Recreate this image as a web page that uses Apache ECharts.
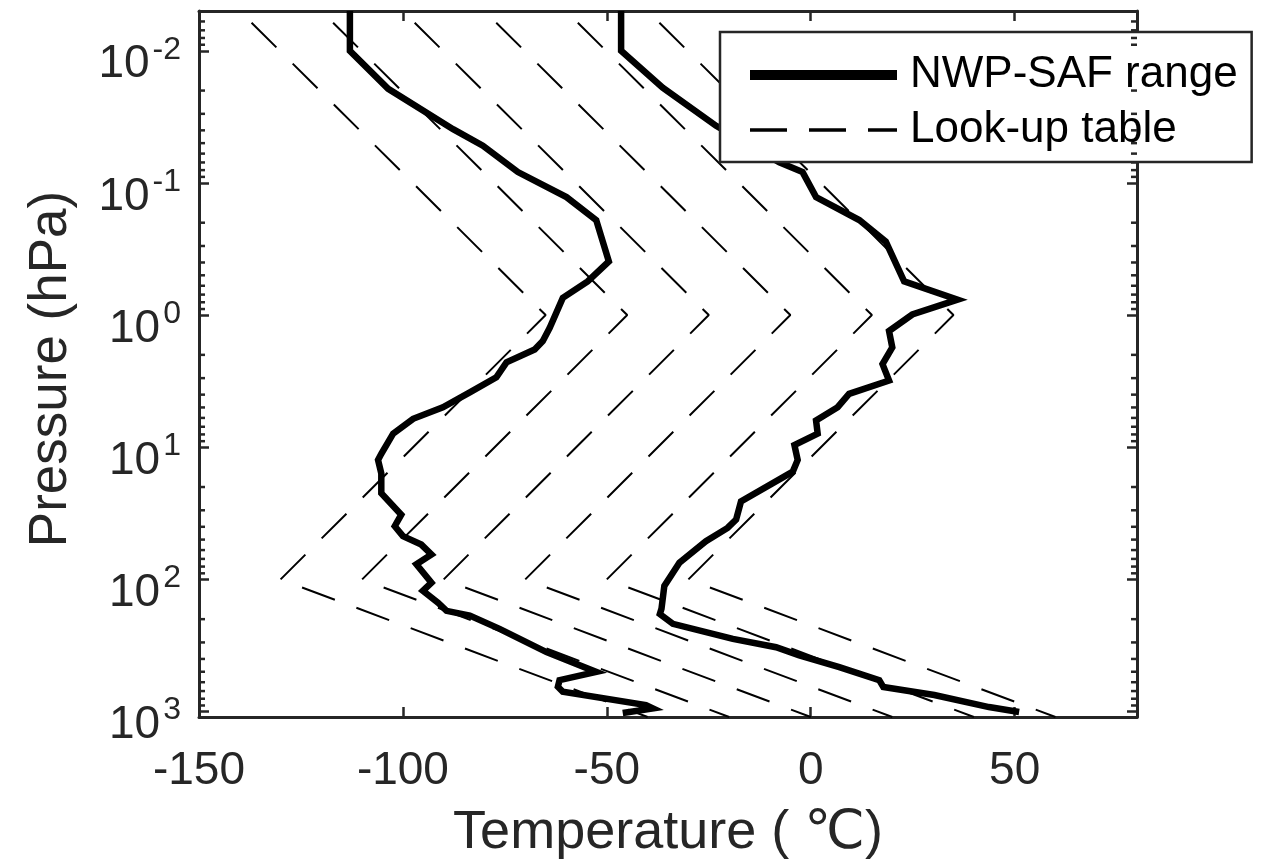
<!DOCTYPE html>
<html>
<head>
<meta charset="utf-8">
<script src="https://cdn.jsdelivr.net/npm/echarts@6/dist/echarts.min.js"></script>
<style>
  html, body { margin: 0; padding: 0; background: #ffffff; }
  #chart { width: 1261px; height: 865px; }
</style>
</head>
<body>
<div id="chart"></div>
<script>
// NWP-SAF profile envelope: coldest profile (pressure in hPa, temperature in °C)
const minProfileP = [0.005, 0.01, 0.0194, 0.0392, 0.0523, 0.0828, 0.128, 0.191, 0.393, 0.556,
  0.741, 1.25, 1.57, 1.82, 2.28, 2.96, 3.84, 4.98, 6.09, 7.89,
  11.2, 12.5, 15.8, 22.3, 32.4, 39.6, 47.1, 54.5, 64.7, 76.9,
  106, 122, 150, 173, 188, 237, 355, 502, 579, 650,
  709, 893, 946, 1025];
const minProfileT = [-113.0, -113.0, -103.6, -87.7, -80.4, -71.8, -59.9, -52.6, -49.5, -54.7,
  -60.8, -64.0, -65.7, -67.7, -74.6, -77.1, -83.6, -90.2, -97.5, -102.4,
  -105.3, -106.1, -105.3, -105.3, -100.4, -102.0, -100.0, -95.5, -93.0, -96.7,
  -93.0, -95.1, -91.4, -89.3, -83.6, -76.3, -64.8, -52.6, -61.6, -62.0,
  -60.8, -40.4, -38.7, -46.1];

// NWP-SAF profile envelope: warmest profile
const maxProfileP = [0.005, 0.01, 0.019, 0.037, 0.0697, 0.0828, 0.128, 0.191, 0.278, 0.556,
  0.764, 0.99, 1.32, 1.76, 2.35, 3.13, 3.95, 4.98, 6.26, 7.89,
  9.64, 12.5, 15.3, 25.7, 35.3, 40.8, 51.4, 74.8, 112, 167,
  183, 217, 282, 326, 376, 462, 579, 653, 750, 925, 1007];
const maxProfileT = [-46.5, -46.5, -36.3, -23.2, -7.7, -2.0, 1.3, 11.9, 18.4, 22.9,
  36.0, 24.9, 19.2, 20.0, 17.6, 19.2, 9.4, 6.6, 1.3, 1.7,
  -4.0, -3.2, -4.4, -17.1, -18.3, -20.4, -25.7, -32.2, -35.9, -36.6,
  -37.0, -33.8, -19.1, -8.5, -2.8, 7.0, 16.8, 17.8, 30.3, 43.7, 51.1];

// Look-up table profiles: shared pressure nodes, one temperature list per profile
const lutP = [0.005, 1, 100, 1100];
const lutProfile1 = [-140, -65, -130, -40];
const lutProfile2 = [-120, -45, -110, -20];
const lutProfile3 = [-100, -25, -90, 0];
const lutProfile4 = [-80, -5, -70, 20];
const lutProfile5 = [-60, 15, -50, 40];
const lutProfile6 = [-40, 35, -30, 60];
const lutProfiles = [lutProfile1, lutProfile2, lutProfile3, lutProfile4, lutProfile5, lutProfile6];

// Axis ranges
const tempMin = -150, tempMax = 80, tempStep = 50;
const presTop = 0.005, presBottom = 1100;
// minor tick mantissas for each decade of the pressure axis
const minorMantissas = [2, 3, 4, 5, 6, 7, 8, 9];
const minorDecades = [0.001, 0.01, 0.1, 1, 10, 100];

const FONT = "'Liberation Sans', Arial, 'DejaVu Sans', sans-serif";
const AX = '#262626';

const pairs = (ts, ps) => ts.map((t, i) => [t, ps[i]]);

const minorTicks = [];
minorDecades.forEach(d => minorMantissas.forEach(m => {
  const v = +(m * d).toPrecision(6);
  if (v > presTop && v < presBottom) minorTicks.push([tempMin, v]);
}));

const series = [];
lutProfiles.forEach(prof => {
  series.push({
    name: 'Look-up table',
    type: 'line',
    data: pairs(prof, lutP),
    symbol: 'none',
    silent: true,
    z: 2,
    itemStyle: { color: '#000' },
    lineStyle: { color: '#000', width: 2, type: [35, 23], dashOffset: 41.4, cap: 'butt' }
  });
});
[[minProfileT, minProfileP], [maxProfileT, maxProfileP]].forEach(([ts, ps]) => {
  series.push({
    name: 'NWP-SAF range',
    type: 'line',
    data: pairs(ts, ps),
    symbol: 'none',
    silent: true,
    z: 3,
    itemStyle: { color: '#000' },
    lineStyle: { color: '#000', width: 6.5, join: 'miter', cap: 'butt' }
  });
});
// inward minor ticks on both pressure axes
series.push({
  type: 'custom',
  silent: true,
  z: 5,
  data: minorTicks,
  encode: { x: 0, y: 1 },
  renderItem: (params, api) => {
    const cs = params.coordSys;
    const y = api.coord([tempMin, api.value(1)])[1];
    const st = { stroke: AX, lineWidth: 2.5 };
    return {
      type: 'group',
      children: [
        { type: 'line', shape: { x1: cs.x, y1: y, x2: cs.x + 6, y2: y }, style: st },
        { type: 'line', shape: { x1: cs.x + cs.width - 6, y1: y, x2: cs.x + cs.width, y2: y }, style: st }
      ]
    };
  }
});

const expLabel = v => {
  const e = Math.log10(v), r = Math.round(e);
  if (Math.abs(e - r) > 1e-6) return '';
  return '{b|10}{s|' + r + '}';
};

const axisLineStyle = { show: true, onZero: false, lineStyle: { color: AX, width: 3 } };
const tickStyle = { show: true, inside: true, length: 10, lineStyle: { color: AX, width: 2.5 } };

const chart = echarts.init(document.getElementById('chart'), null, { renderer: 'canvas' });
chart.setOption({
  animation: false,
  backgroundColor: '#ffffff',
  grid: { left: 199, top: 11, width: 938, height: 711, containLabel: false },
  xAxis: [
    {
      type: 'value', position: 'bottom', min: tempMin, max: tempMax, interval: tempStep,
      name: 'Temperature ( ℃)', nameLocation: 'middle', nameGap: 89,
      nameTextStyle: { fontSize: 54, fontFamily: FONT, color: AX },
      axisLine: axisLineStyle, axisTick: tickStyle, splitLine: { show: false },
      axisLabel: { fontSize: 46, fontFamily: FONT, color: AX, margin: 31, showMaxLabel: false }
    },
    {
      type: 'value', position: 'top', min: tempMin, max: tempMax, interval: tempStep,
      axisLine: axisLineStyle, axisTick: tickStyle, splitLine: { show: false },
      axisLabel: { show: false }
    }
  ],
  yAxis: [
    {
      type: 'log', logBase: 10, position: 'left', min: presTop, max: presBottom, inverse: true,
      name: 'Pressure (hPa)', nameLocation: 'middle', nameGap: 121, nameRotate: 90,
      nameTextStyle: { fontSize: 53, fontFamily: FONT, color: AX, padding: [0, 10, 0, 0] },
      axisLine: axisLineStyle, axisTick: tickStyle, splitLine: { show: false }, minorTick: { show: false },
      axisLabel: {
        margin: 18, showMinLabel: false, showMaxLabel: false, formatter: expLabel,
        rich: {
          b: { fontSize: 46, fontFamily: FONT, color: AX, lineHeight: 46, padding: [14, 0, 0, 0], verticalAlign: 'top' },
          s: { fontSize: 32, fontFamily: FONT, color: AX, lineHeight: 32, padding: [6, 0, 0, 3], verticalAlign: 'top' }
        }
      }
    },
    {
      type: 'log', logBase: 10, position: 'right', min: presTop, max: presBottom, inverse: true,
      axisLine: axisLineStyle, axisTick: tickStyle, splitLine: { show: false },
      axisLabel: { show: false }
    }
  ],
  legend: {
    orient: 'vertical', left: 720, top: 32,
    backgroundColor: '#ffffff', borderColor: AX, borderWidth: 2.5, borderRadius: 0,
    padding: [21, 14, 10, 25], itemGap: 11, itemWidth: 147, itemHeight: 20,
    selectedMode: false,
    itemStyle: { opacity: 0 },
    textStyle: { fontSize: 44, fontFamily: FONT, color: '#000', padding: [0, 0, 0, 8] },
    data: [
      { name: 'NWP-SAF range', itemStyle: { opacity: 0 }, lineStyle: { width: 10, type: 'solid' } },
      { name: 'Look-up table', itemStyle: { opacity: 0 }, lineStyle: { width: 3.5, type: [37, 22], dashOffset: 0 } }
    ]
  },
  series: series
});
</script>
</body>
</html>
